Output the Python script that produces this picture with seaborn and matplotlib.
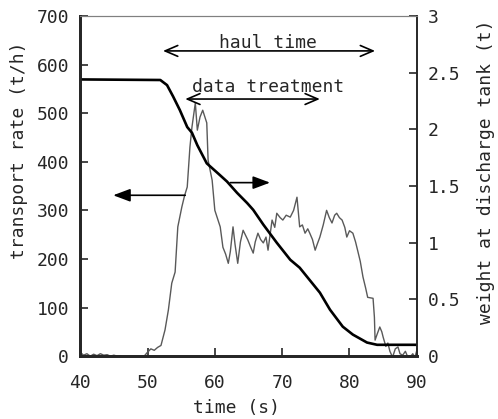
import matplotlib
matplotlib.use("Agg")
import matplotlib.pyplot as plt
import seaborn as sns
import pandas as pd

# transport rate (t/h), thin grey trace
rate_time = [40, 40.5, 41, 41.5, 42, 42.5, 43, 43.5, 44, 44.5, 45, 45.5, 46, 46.5, 47, 47.5,
             48, 48.5, 49, 49.5, 50, 50.5, 51, 51.5, 52, 52.6, 53.1, 53.6, 54.1, 54.5, 55.1,
             55.5, 55.9, 56.3, 56.6, 57.1, 57.4, 57.8, 58.2, 58.8, 59.0, 59.6, 60.0, 60.8,
             61.2, 61.6, 62.0, 62.3, 62.7, 63.0, 63.4, 63.8, 64.2, 64.9, 65.3, 65.7, 66.0,
             66.4, 66.8, 67.2, 67.6, 67.9, 68.5, 68.9, 69.2, 69.7, 70.1, 70.6, 71.2, 71.7,
             72.2, 72.6, 73.0, 73.4, 73.8, 74.1, 74.5, 74.9, 75.2, 75.6, 76.1, 76.6, 77.0,
             77.4, 77.8, 78.1, 78.5, 78.9, 79.3, 79.6, 80.0, 80.5, 80.9, 81.2, 81.6, 82.0,
             82.4, 82.7, 83.1, 83.5, 83.7, 83.8, 84.1, 84.5, 84.8, 85.0, 85.4, 85.7, 86.0,
             86.4, 86.8, 87.2, 87.5, 87.9, 88.3, 88.6, 89.0, 89.4, 89.7, 90.0]
rate = [8, 2, 5, 0, 4, 1, 5, 2, 3, 0, 2, 0, 1, -3, -6, -2,
        -10, -5, -8, 0, 8, 15, 12, 18, 22, 54, 95, 150, 173, 266, 307,
        330, 348, 430, 471, 521, 465, 492, 506, 480, 403, 362, 300, 266,
        224, 210, 191, 215, 266, 230, 191, 235, 259, 239, 225, 212, 235,
        253, 240, 233, 245, 218, 280, 265, 294, 285, 280, 290, 286, 300,
        327, 266, 270, 253, 262, 253, 240, 218, 230, 245, 270, 300, 285,
        274, 290, 294, 285, 280, 265, 245, 258, 253, 235, 218, 195, 163,
        140, 121, 120, 119, 80, 33, 45, 60, 50, 39, 20, 27, 10,
        -2, 15, 19, 5, 2, 10, 0, -2, 5, -3, 12]

# weight at discharge tank (t), thick black trace
weight_time = [40, 51.9, 52.9, 53.8, 54.8, 55.9, 56.6, 57.4, 58.8, 60.5, 61.8, 63.3, 64.8,
               65.7, 67.2, 69.2, 71.2, 72.6, 74.1, 75.6, 77.1, 79.0, 80.5, 82.6, 84.1, 90]
weight = [2.44, 2.435, 2.39, 2.29, 2.17, 2.02, 1.97, 1.86, 1.70, 1.61, 1.54, 1.44, 1.35,
          1.29, 1.16, 1.00, 0.85, 0.78, 0.67, 0.56, 0.41, 0.26, 0.19, 0.12, 0.10, 0.10]

left_ticks = [0, 100, 200, 300, 400, 500, 600, 700]
right_ticks = [0, 0.5, 1, 1.5, 2, 2.5, 3]
right_labels = ["0", "0.5", "1", "1.5", "2", "2.5", "3"]
x_ticks = [40, 50, 60, 70, 80, 90]

sns.set_style("ticks")
plt.rcParams["font.family"] = ["DejaVu Sans Mono"]
plt.rcParams["font.size"] = 13

rate_df = pd.DataFrame({"time": rate_time, "rate": rate})
weight_df = pd.DataFrame({"time": weight_time, "weight": weight})

fig = plt.figure(figsize=(4.98, 4.19), dpi=100)
ax = fig.add_axes([0.161, 0.150, 0.676, 0.812])
ax2 = ax.twinx()

sns.lineplot(data=rate_df, x="time", y="rate", ax=ax, color="0.35", lw=1.0)
sns.lineplot(data=weight_df, x="time", y="weight", ax=ax2, color="black", lw=1.9)

ax.set_xlim(40, 90)
ax.set_ylim(0, 700)
ax2.set_ylim(0, 3)
ax.set_xticks(x_ticks)
ax.set_yticks(left_ticks)
ax2.set_yticks(right_ticks)
ax2.set_yticklabels(right_labels)

ax.tick_params(direction="in", length=6, width=1.2, labelsize=13, pad=8)
ax.tick_params(axis="x", pad=13)
ax2.tick_params(direction="in", length=6, width=1.2, labelsize=13, pad=8)

ax.set_xlabel("time (s)", fontsize=13)
ax.set_ylabel("transport rate (t/h)", fontsize=13)
ax2.set_ylabel("weight at discharge tank (t)", fontsize=13)
ax.xaxis.set_label_coords(0.463, -0.125)
ax.yaxis.set_label_coords(-0.154, 0.606)
ax2.yaxis.set_label_coords(1.18, 0.541)

for a in (ax, ax2):
    a.spines["left"].set_linewidth(2)
    a.spines["bottom"].set_linewidth(2)
    a.spines["right"].set_linewidth(1.2)
    a.spines["top"].set_linewidth(0.8)
    a.spines["top"].set_color("0.5")

# arrows
open_head = dict(arrowstyle="<->,head_length=0.7,head_width=0.3", color="black", lw=1.2,
                 shrinkA=0, shrinkB=0)
ax.annotate("", xy=(83.8, 628), xytext=(52.3, 628), arrowprops=open_head)
ax.text(67.9, 633, "haul time", ha="center", va="baseline", fontsize=13)
ax.annotate("", xy=(75.6, 529), xytext=(55.6, 529), arrowprops=open_head)
ax.text(67.9, 543, "data treatment", ha="center", va="baseline", fontsize=13)

filled_head = dict(arrowstyle="-|>,head_length=0.8,head_width=0.3", color="black", lw=1.2,
                   shrinkA=0, shrinkB=0)
ax.annotate("", xy=(44.9, 331), xytext=(55.6, 331), arrowprops=filled_head)
ax2.annotate("", xy=(68.2, 1.53), xytext=(62.3, 1.53), arrowprops=filled_head)

plt.savefig("out.png", dpi=100)
